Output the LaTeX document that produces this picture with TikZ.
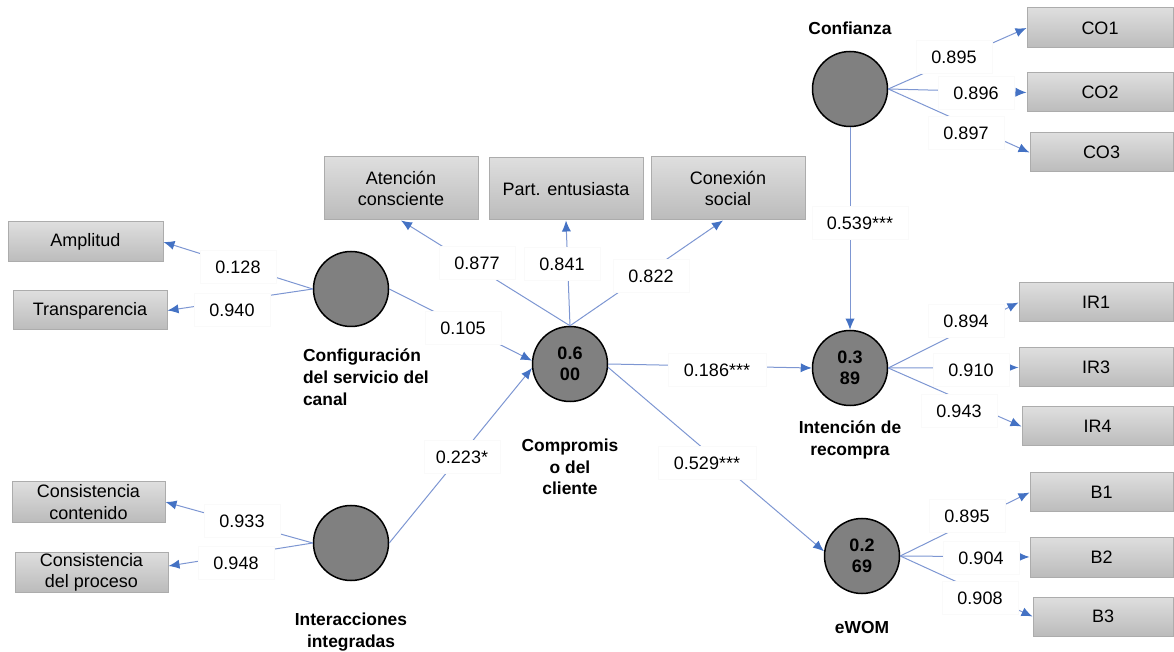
\documentclass[tikz,border=0pt]{standalone}
\usepackage{fontspec}
\setmainfont{Liberation Sans}
\usetikzlibrary{arrows.meta}
\definecolor{linec}{RGB}{125,150,210}
\definecolor{arrc}{RGB}{68,114,196}
\definecolor{latc}{RGB}{128,128,128}
\definecolor{boxc}{RGB}{208,208,208}
\definecolor{boxd}{RGB}{172,172,172}
\tikzset{
  ind/.style={draw=boxd, line width=0.5pt, top color=boxc!70!white, bottom color=boxc!90!black,
    inner sep=0pt, align=center, font=\fontsize{9}{10.6}\selectfont},
  lat/.style={circle, draw=black, line width=0.75pt, fill=latc, minimum size=37.5pt, inner sep=0pt,
    align=center, font=\fontsize{9}{10.6}\selectfont\bfseries},
  coef/.style={fill=white, draw=gray!4, line width=0.4pt, inner sep=0pt, minimum width=38pt,
    minimum height=16.5pt, font=\fontsize{9}{10.6}\selectfont},
  cname/.style={align=center, font=\fontsize{8.7}{10.8}\selectfont\bfseries},
  arr/.style={draw=linec, line width=0.5pt, -{Latex[length=5.5pt,width=4.6pt,color=arrc]}},
}
\newcommand\indbox[6]{\node[ind, minimum width={(#4-#2)*0.5pt}, minimum height={(#5-#3)*0.5pt}] (#1) at ({(#2+#4)/2},{(#3+#5)/2}) {#6};}
\begin{document}
\begin{tikzpicture}[x=0.5pt, y=-0.5pt]
\useasboundingbox (0,0) rectangle (1174,652);
% indicator boxes
\indbox{amp}{8}{222}{163}{262}{Amplitud}
\indbox{tra}{13}{291}{167}{330}{Transparencia}
\indbox{cc}{12}{482}{165}{522}{Consistencia\\contenido}
\indbox{cp}{15}{552}{168}{592}{Consistencia\\del proceso}
\indbox{at}{324}{157}{478}{220}{Atención\\consciente}
\indbox{pe}{489}{158}{643}{220}{Part. entusiasta}
\indbox{cs}{651}{157}{805}{220}{Conexión\\social}
\indbox{co1}{1027}{8}{1173}{48}{CO1}
\indbox{co2}{1027}{73}{1173}{112}{CO2}
\indbox{co3}{1030}{133}{1173}{172}{CO3}
\indbox{ir1}{1019}{283}{1173}{322}{IR1}
\indbox{ir3}{1019}{348}{1173}{387}{IR3}
\indbox{ir4}{1022}{407}{1173}{446}{IR4}
\indbox{b1}{1030}{473}{1173}{512}{B1}
\indbox{b2}{1030}{537}{1173}{577}{B2}
\indbox{b3}{1033}{597}{1173}{636}{B3}
% latent variables
\node[lat] (cfg) at (351,289) {};
\node[lat] (ii) at (351,543) {};
\node[lat] (cm) at (570,364) {0.6\\00};
\node[lat] (cf) at (850,89) {};
\node[lat] (ir) at (850,368) {0.3\\89};
\node[lat] (ew) at (862,556) {0.2\\69};
% construct names
\node[cname, align=left, anchor=north west] (ncfg) at (296,342) {Configuración\\del servicio del\\canal};
\node[cname, anchor=north] (nii) at (351,606) {Interacciones\\integradas};
\node[cname, anchor=north] (ncm) at (570,432) {Compromis\\o del\\cliente};
\node[cname] (ncf) at (850,28) {Confianza};
\node[cname, anchor=north] (nir) at (850,414) {Intención de\\recompra};
\node[cname] (new) at (862,628) {eWOM};
% connectors
\draw[arr] (cfg.west) -- (amp.east);
\draw[arr] (cfg.west) -- (tra.east);
\draw[arr] (ii.west) -- (cc.east);
\draw[arr] (ii.west) -- ([yshift=3pt]cp.east);
\draw[arr] (cm.north) -- (at.south);
\draw[arr] (cm.north) -- (pe.south);
\draw[arr] (cm.north) -- ([xshift=-2.5pt]cs.south);
\draw[arr] (cfg.east) -- (cm.175);
\draw[arr] (ii.east) -- (cm.186);
\draw[arr] (cm.east) -- (ir.west);
\draw[arr] (cm.-5) -- (ew.173);
\draw[arr] (cf.south) -- (ir.north);
\draw[arr] (cf.east) -- (co1.west);
\draw[arr] (cf.east) -- (co2.west);
\draw[arr] (cf.east) -- (co3.west);
\draw[arr] (ir.east) -- (ir1.west);
\draw[arr] (ir.east) -- (ir3.west);
\draw[arr] (ir.east) -- (ir4.west);
\draw[arr] (ew.east) -- (b1.west);
\draw[arr] (ew.east) -- (b2.west);
\draw[arr] (ew.east) -- (b3.west);
% coefficients
\node[coef] (l128) at (238,267) {0.128};
\node[coef] (l940) at (232,310) {0.940};
\node[coef] (l933) at (242,521) {0.933};
\node[coef] (l948) at (236,563) {0.948};
\node[coef] (l105) at (463,328) {0.105};
\node[coef] (l223) at (462,457) {0.223*};
\node[coef] (l877) at (477,263) {0.877};
\node[coef] (l841) at (562,264) {0.841};
\node[coef] (l822) at (651,276) {0.822};
\node[coef, minimum width=49pt] (l186) at (717,370) {0.186***};
\node[coef, minimum width=49pt] (l529) at (707,463) {0.529***};
\node[coef, minimum width=48pt] (l539) at (860,223) {0.539***};
\node[coef] (l895a) at (954,57) {0.895};
\node[coef] (l896) at (976,93) {0.896};
\node[coef] (l897) at (966,133) {0.897};
\node[coef] (l894) at (966,321) {0.894};
\node[coef] (l910) at (971,370) {0.910};
\node[coef] (l943) at (959,411) {0.943};
\node[coef] (l895b) at (967,516) {0.895};
\node[coef] (l904) at (981,558) {0.904};
\node[coef] (l908) at (980,598) {0.908};
\end{tikzpicture}
\end{document}
